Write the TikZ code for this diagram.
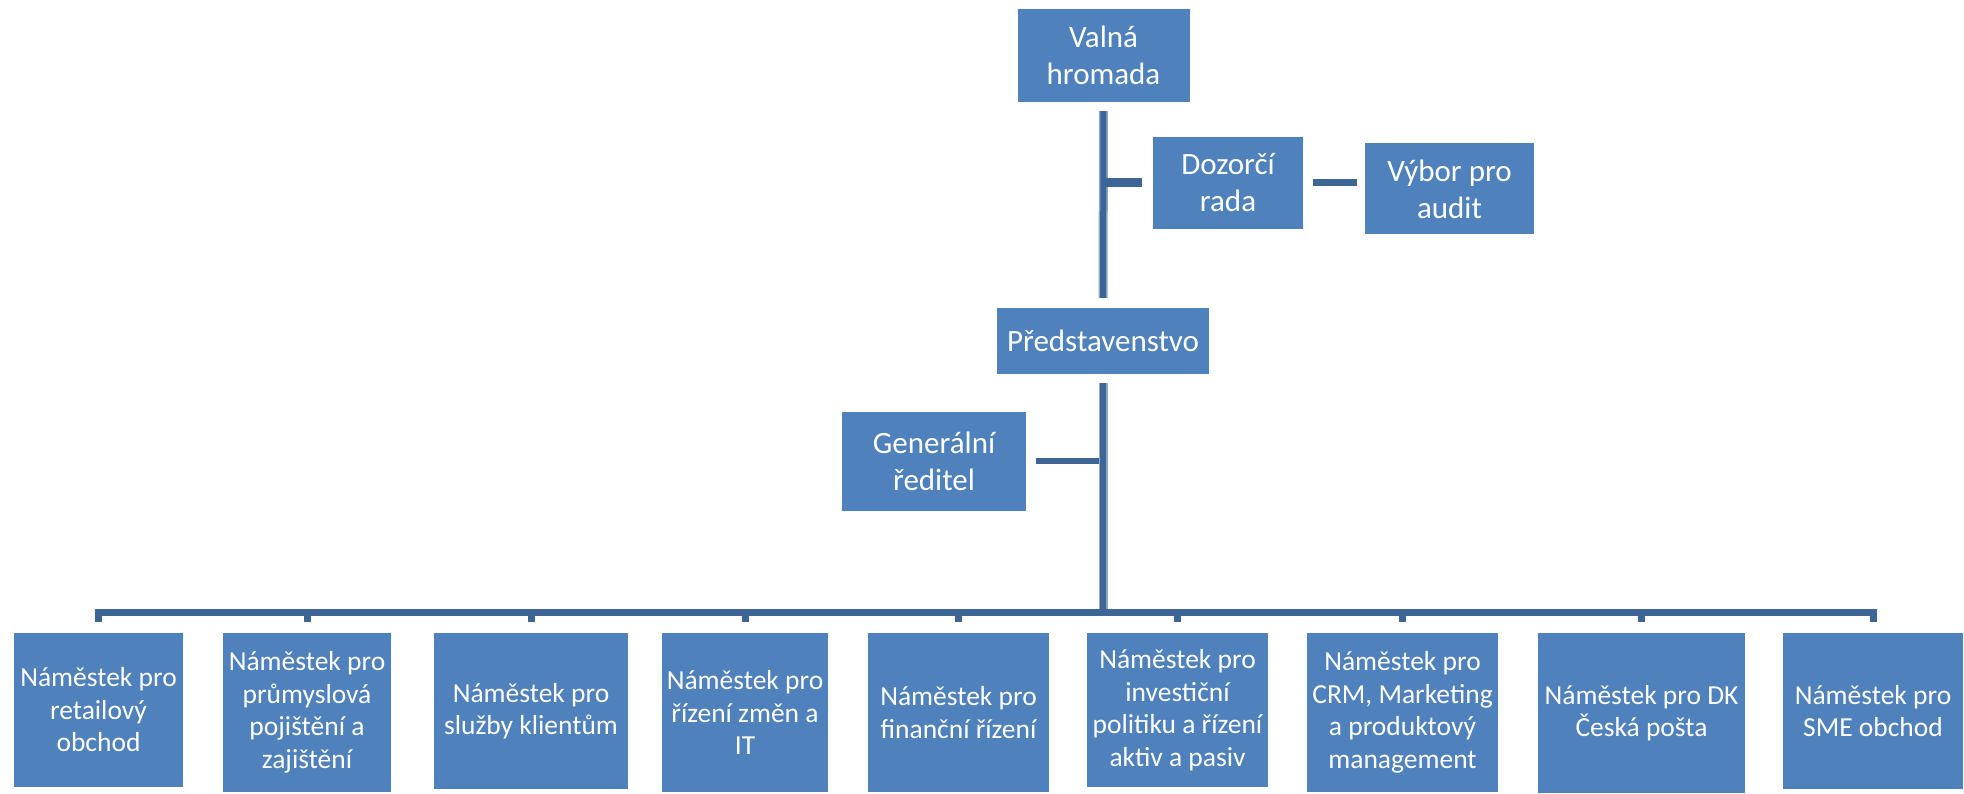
\documentclass[tikz,border=0pt]{standalone}
\usepackage{fontspec}
\setmainfont{Carlito}
\definecolor{boxblue}{HTML}{4F81BD}
\definecolor{linkblue}{HTML}{3D6697}
\definecolor{halo}{HTML}{8EA8CC}
\begin{document}
\begin{tikzpicture}[x=1pt,y=-1pt]
\tikzset{
  unit/.style={fill=boxblue, text=white, inner sep=0pt, align=center,
    font=\fontsize{31}{37}\selectfont},
  sub/.style={unit, font=\fontsize{27.5}{32.5}\selectfont},
  link/.style={draw=linkblue, line width=7pt},
  trunk/.style={draw=linkblue, line width=6pt,
    preaction={draw=halo, line width=9pt}},
}
\useasboundingbox (0,0) rectangle (1964,794);
% top
\node[unit, minimum width=172pt, minimum height=93pt] (valna) at (1103.5,55.5) {Valná\\hromada};
\node[unit, minimum width=150pt, minimum height=92pt] (doz) at (1228,183) {Dozorčí\\rada};
\node[unit, minimum width=169pt, minimum height=91pt] (vybor) at (1449.5,189) {Výbor pro\\audit};
\node[unit, minimum width=212pt, minimum height=66pt] (pred) at (1103,341) {Představenstvo};
\node[unit, minimum width=184pt, minimum height=99pt] (gen) at (934,461) {Generální\\ředitel};
% bottom
\node[sub, minimum width=169pt, minimum height=154pt] (b1) at (98.5,710) {Náměstek pro\\retailový\\obchod};
\node[sub, minimum width=168pt, minimum height=159pt] (b2) at (307,712.5) {Náměstek pro\\průmyslová\\pojištění a\\zajištění};
\node[sub, minimum width=194pt, minimum height=156pt] (b3) at (531,711) {Náměstek pro\\služby klientům};
\node[sub, minimum width=166pt, minimum height=159pt] (b4) at (745,712.5) {Náměstek pro\\řízení změn a\\IT};
\node[sub, minimum width=181pt, minimum height=159pt] (b5) at (958.5,712.5) {Náměstek pro\\finanční řízení};
\node[sub, minimum width=181pt, minimum height=154pt] (b6) at (1177.5,710) {Náměstek pro\\investiční\\politiku a řízení\\aktiv a pasiv};
\node[sub, minimum width=191pt, minimum height=159pt] (b7) at (1402.5,712.5) {Náměstek pro\\CRM, Marketing\\a produktový\\management};
\node[sub, minimum width=207pt, minimum height=160pt] (b8) at (1641.5,713) {Náměstek pro DK\\Česká pošta};
\node[sub, minimum width=180pt, minimum height=156pt] (b9) at (1873,711) {Náměstek pro\\SME obchod};
\coordinate (bus) at (1103,612);
% connectors
\draw[trunk, shorten <=9pt, shorten >=10pt] (valna.south) -- (pred.north);
\draw[link, line width=9pt, yshift=-4.5pt, shorten >=11pt] (valna.south |- doz.west) -- (doz.west);
\draw[link, yshift=-6pt, shorten <=10pt, shorten >=8pt] (doz.east) -- (doz.east -| vybor.west);
\draw[link, line width=6pt, shorten <=10pt] (gen.east) -- (gen.east -| pred.south);
\draw[trunk, shorten <=9pt] (pred.south) -- (bus);
\foreach \b in {b1,b2,b3,b4,b5,b6,b7,b8,b9}{
  \draw[link, shorten >=11pt] (bus) -| (\b.north);
}
\end{tikzpicture}
\end{document}
